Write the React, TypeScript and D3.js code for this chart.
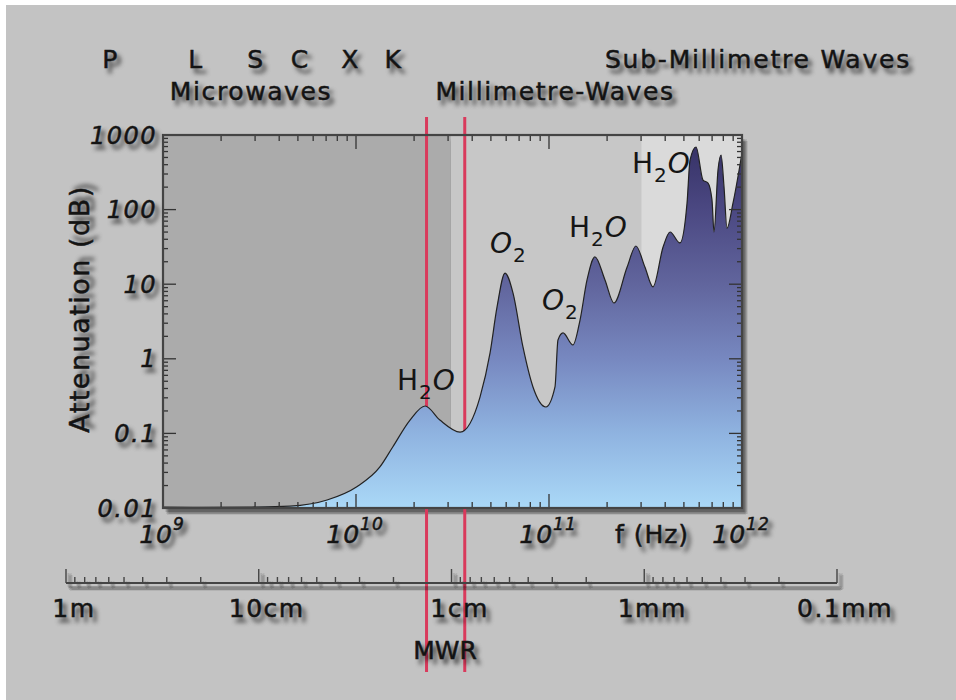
import React from "react";
import * as d3 from "d3";

// ---- data ----
const freqGHz = [1.0, 1.55, 2.82, 4.55, 7.08, 10.1, 13.3, 15.5, 19.05, 22.8, 27.2, 34.6, 43.9, 49.5, 53.8, 59.2, 65.1, 73.3, 82.6, 96.4, 107.4, 111.3, 118.2, 133.1, 144.8, 157.4, 173, 195, 217, 254, 282, 314, 346, 390, 424, 477, 519, 538, 578, 628, 667, 699, 716, 751, 779, 807, 836, 898, 1000];
const attenDb = [0.0103, 0.0102, 0.0103, 0.0106, 0.0128, 0.0193, 0.0355, 0.0658, 0.151, 0.233, 0.151, 0.104, 0.307, 1.2, 4.95, 14.1, 7.6, 1.44, 0.419, 0.226, 0.419, 1.79, 2.22, 1.53, 3.31, 11.4, 23.2, 11.4, 5.6, 17.0, 32.5, 17.0, 9.2, 31.5, 50.1, 35.7, 122, 462, 690, 249, 227, 135, 50.1, 340, 539, 201, 56.6, 122, 574];

const yTickValues = [0.01, 0.1, 1, 10, 100, 1000];
const yTickLabels = ["0.01", "0.1", "1", "10", "100", "1000"];
const xTickExponents = [9, 10, 11, 12];

const wavelengthValuesM = [1, 0.1, 0.01, 0.001, 0.0001];
const wavelengthLabels = ["1m", "10cm", "1cm", "1mm", "0.1mm"];

const bandLetters = ["P", "L", "S", "C", "X", "K"];
const bandLetterGHz = [0.53, 1.47, 3.0, 5.1, 9.3, 15.5];

// spectral regions: microwave / millimetre / sub-millimetre (Hz)
const regionEdgesHz = [1e9, 3.1e10, 3e11, 1e12];
const regionColors = ["#ababab", "#c7c7c7", "#dadada"];

const mwrGHz = [23.2, 36.6];

const chemLabels = [
  { mol: "H", sub: "2", tail: "O", x: 397, y: 390 },
  { mol: "O", sub: "2", tail: "", x: 490, y: 253 },
  { mol: "O", sub: "2", tail: "", x: 542, y: 310 },
  { mol: "H", sub: "2", tail: "O", x: 569, y: 237 },
  { mol: "H", sub: "2", tail: "O", x: 632, y: 173 },
];

const FONT = "'DejaVu Sans', Verdana, sans-serif";
const TEXT_SHADOW = "4px 5px 4px rgba(0,0,0,0.55)";

// soft shadow for non-text marks: offset translucent copies
const SHADOW_OFFSETS: [number, number][] = [
  [4, 5], [3, 4], [5, 6], [3, 6], [5, 4], [6, 6], [2, 4], [4, 7],
];

function ShapeShadow({ render }: { render: (shadow: boolean) => React.ReactNode }) {
  return (
    <g>
      {SHADOW_OFFSETS.map(([dx, dy], i) => (
        <g key={i} transform={`translate(${dx},${dy})`} opacity={0.08}>
          {render(true)}
        </g>
      ))}
      {render(false)}
    </g>
  );
}

export default function App() {
  const L = 163, R = 742, T = 135, B = 508;
  const x = d3.scaleLog().domain([1e9, 1e12]).range([L, R]);
  const y = d3.scaleLog().domain([0.01, 1000]).range([B, T]);
  const wl = d3.scaleLog().domain([1, 1e-4]).range([66, 837]);

  const data = freqGHz.map((f, i) => ({ f: f * 1e9, a: attenDb[i] }));
  const area = d3
    .area<{ f: number; a: number }>()
    .x((d) => x(d.f))
    .y0(B)
    .y1((d) => y(d.a))
    .curve(d3.curveMonotoneX);
  const line = d3
    .line<{ f: number; a: number }>()
    .x((d) => x(d.f))
    .y((d) => y(d.a))
    .curve(d3.curveMonotoneX);

  const xTicks: { v: number; major: boolean }[] = [];
  for (let e = 9; e <= 12; e++) {
    for (let k = 1; k <= 9; k++) {
      const v = k * Math.pow(10, e);
      if (v > 1e12 * 1.0001) break;
      xTicks.push({ v, major: k === 1 });
    }
  }
  const yTicks: { v: number; major: boolean }[] = [];
  for (let e = -2; e <= 3; e++) {
    for (let k = 1; k <= 9; k++) {
      const v = k * Math.pow(10, e);
      if (v > 1000 * 1.0001) break;
      yTicks.push({ v, major: k === 1 });
    }
  }
  const wTicks: { v: number; major: boolean }[] = [];
  for (let e = 0; e >= -4; e--) {
    const base = Math.pow(10, e);
    wTicks.push({ v: base, major: true });
    if (e > -4) {
      for (let k = 9; k >= 2; k--) wTicks.push({ v: (k * base) / 10, major: false });
    }
  }

  const tickColor = "#333";
  const textFill = "#151515";
  const textStyle = { textShadow: TEXT_SHADOW };

  return (
    <svg
      width={956}
      height={700}
      style={{ position: "absolute", left: 0, top: 0, fontFamily: FONT }}
    >
      <defs>
        <linearGradient id="fillGrad" gradientUnits="userSpaceOnUse" x1={0} y1={B} x2={0} y2={T}>
          <stop offset="0" stopColor="#aad8f7" />
          <stop offset="0.2" stopColor="#8fb3e0" />
          <stop offset="0.4" stopColor="#7788c0" />
          <stop offset="0.6" stopColor="#61659d" />
          <stop offset="0.8" stopColor="#4b4882" />
          <stop offset="1" stopColor="#332e62" />
        </linearGradient>
        <clipPath id="plotClip">
          <rect x={L} y={T} width={R - L} height={B - T} />
        </clipPath>
      </defs>

      {/* page */}
      <rect x={0} y={0} width={956} height={700} fill="#ffffff" />
      <rect x={6} y={5} width={950} height={695} fill="#c3c3c3" />

      {/* top labels */}
      <g fill={textFill} stroke={textFill} strokeWidth={0.5} fontSize={25} style={textStyle}>
        {bandLetters.map((b, i) => (
          <text key={b} x={x(bandLetterGHz[i] * 1e9)} y={68} textAnchor="middle">
            {b}
          </text>
        ))}
        <text x={251} y={100} textAnchor="middle" letterSpacing={1.6}>
          Microwaves
        </text>
        <text x={555} y={100} textAnchor="middle" letterSpacing={1.6}>
          Millimetre-Waves
        </text>
        <text x={758} y={68} textAnchor="middle" letterSpacing={1.8}>
          Sub-Millimetre Waves
        </text>
      </g>

      {/* plot frame shadow */}
      {SHADOW_OFFSETS.map(([dx, dy], i) => (
        <rect key={"fs" + i} x={L + dx} y={T + dy} width={R - L} height={B - T} fill="#000" opacity={0.08} />
      ))}

      {/* spectral regions */}
      {regionColors.map((col, i) => (
        <rect
          key={i}
          x={x(regionEdgesHz[i])}
          y={T}
          width={x(regionEdgesHz[i + 1]) - x(regionEdgesHz[i])}
          height={B - T}
          fill={col}
        />
      ))}

      {/* MWR lines */}
      {mwrGHz.map((f) => (
        <line key={f} x1={x(f * 1e9)} x2={x(f * 1e9)} y1={117} y2={672} stroke="#d93a5c" strokeWidth={3} />
      ))}

      {/* attenuation curve */}
      <g clipPath="url(#plotClip)">
        <path d={area(data) || ""} fill="url(#fillGrad)" />
        <path d={line(data) || ""} fill="none" stroke="#222" strokeWidth={1.2} />
      </g>

      {/* ticks */}
      <g stroke={tickColor} strokeWidth={1.3}>
        {xTicks.map((t, i) => {
          const px = x(t.v);
          const len = t.major ? 14 : 6;
          return (
            <g key={"xt" + i}>
              <line x1={px} x2={px} y1={B} y2={B - len} />
              <line x1={px} x2={px} y1={T} y2={T + len} />
            </g>
          );
        })}
        {yTicks.map((t, i) => {
          const py = y(t.v);
          const len = t.major ? 13 : 5;
          return (
            <g key={"yt" + i}>
              <line x1={L} x2={L + len} y1={py} y2={py} />
              <line x1={R} x2={R - len} y1={py} y2={py} />
            </g>
          );
        })}
      </g>

      {/* frame */}
      <rect x={L} y={T} width={R - L} height={B - T} fill="none" stroke="#444" strokeWidth={2.2} />

      {/* y tick labels + title */}
      <g fill={textFill} stroke={textFill} strokeWidth={0.5} style={textStyle}>
        <g fontSize={24} fontStyle="italic" textAnchor="end">
          {yTickValues.map((v, i) => (
            <text key={v} x={157} y={y(v) + 8.5} letterSpacing={1.5}>
              {yTickLabels[i]}
            </text>
          ))}
        </g>
        <text transform={`translate(89,309) rotate(-90)`} textAnchor="middle" fontSize={27} letterSpacing={1.5}>
          Attenuation (dB)
        </text>
      </g>

      {/* x tick labels */}
      <g fill={textFill} stroke={textFill} strokeWidth={0.5} style={textStyle}>
        {xTickExponents.map((e) => (
          <text key={e} x={x(Math.pow(10, e)) - 1} y={543} textAnchor="middle" fontSize={25} fontStyle="italic" letterSpacing={1}>
            10
            <tspan fontSize={17} dy={-13}>
              {e}
            </tspan>
          </text>
        ))}
        <text x={652} y={543} textAnchor="middle" fontSize={25} letterSpacing={1}>
          f (Hz)
        </text>
      </g>

      {/* wavelength axis */}
      <ShapeShadow
        render={(s) => (
          <g stroke={s ? "#000" : "#444"}>
            <line x1={wl(1)} x2={wl(1e-4)} y1={583} y2={583} strokeWidth={2} />
            {wTicks.map((t, i) => {
              const px = wl(t.v);
              const len = t.major ? 14 : 6;
              return <line key={"w" + i} x1={px} x2={px} y1={583} y2={583 - len} strokeWidth={1.4} />;
            })}
          </g>
        )}
      />
      <g fill={textFill} stroke={textFill} strokeWidth={0.5} style={textStyle}>
        {wavelengthValuesM.map((v, i) => (
          <text key={v} x={wl(v) + 8} y={617} textAnchor="middle" fontSize={25} letterSpacing={1.5}>
            {wavelengthLabels[i]}
          </text>
        ))}
        <text x={445} y={659} textAnchor="middle" fontSize={25}>
          MWR
        </text>
      </g>

      {/* chemical labels */}
      <g fill={textFill} fontSize={28}>
        {chemLabels.map((cl, i) => (
          <text key={i} x={cl.x} y={cl.y} letterSpacing={1}>
            <tspan fontStyle={cl.mol === "O" ? "italic" : "normal"}>{cl.mol}</tspan>
            <tspan fontSize={20} dy={9}>
              {cl.sub}
            </tspan>
            {cl.tail ? (
              <tspan dy={-9} fontStyle="italic">
                {cl.tail}
              </tspan>
            ) : null}
          </text>
        ))}
      </g>
    </svg>
  );
}
